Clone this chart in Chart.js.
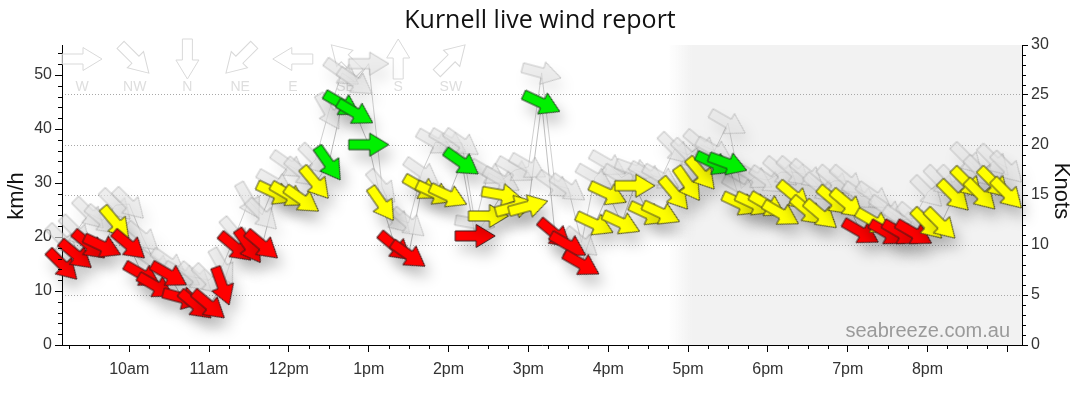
<!DOCTYPE html>
<html>
<head>
<meta charset="utf-8">
<title>Kurnell live wind report</title>
<script src="https://cdn.jsdelivr.net/npm/chart.js@4.4.1/dist/chart.umd.min.js"></script>
<style>
  html, body { margin: 0; padding: 0; background: #fff; }
  #wind { display: block; }
</style>
</head>
<body>
<canvas id="wind" width="1080" height="414"></canvas>
<script>
// 観測時刻（24時間表記）
const times = [
  '09:10', '09:20', '09:30', '09:40', '09:50',
  '10:00', '10:10', '10:20', '10:30', '10:40', '10:50',
  '11:00', '11:10', '11:20', '11:30', '11:40', '11:50',
  '12:00', '12:10', '12:20', '12:30', '12:40', '12:50',
  '13:00', '13:10', '13:20', '13:30', '13:40', '13:50',
  '14:00', '14:10', '14:20', '14:30', '14:40', '14:50',
  '15:00', '15:10', '15:20', '15:30', '15:40', '15:50',
  '16:00', '16:10', '16:20', '16:30', '16:40', '16:50',
  '17:00', '17:10', '17:20', '17:30', '17:40', '17:50',
  '18:00', '18:10', '18:20', '18:30', '18:40', '18:50',
  '19:00', '19:10', '19:20', '19:30', '19:40', '19:50',
  '20:00', '20:10', '20:20', '20:30', '20:40', '20:50',
  '21:00'
];

// 平均風速 (km/h)
const avgKmh = [
  14.8, 16.7, 18.5, 18.3, 22.6,
  18.5, 13.0, 10.9, 13.0, 8.7, 7.4,
  7.4, 10.9, 18.1, 18.3, 18.5, 28.1,
  27.8, 26.9, 30.0, 33.6, 44.6, 43.0,
  37.1, 26.1, 18.2, 16.7, 29.1, 28.1,
  27.6, 33.8, 20.2, 23.9, 27.8, 25.6,
  25.7, 44.8, 20.6, 18.5, 15.0, 22.4,
  28.0, 22.6, 29.5, 24.3, 24.4, 28.0,
  29.8, 31.7, 33.6, 33.6, 26.1, 26.1,
  25.9, 24.3, 27.6, 24.8, 24.1, 26.7,
  26.1, 20.9, 22.8, 20.7, 20.7, 20.7,
  22.4, 22.4, 27.6, 30.0, 27.8, 30.0,
  28.0
];

// 平均風向（吹いてくる方位、度）
const avgDir = [
  315, 310, 310, 295, 320,
  310, 300, 300, 300, 285, 310,
  310, 340, 310, 325, 310, 295,
  300, 305, 320, 325, 300, 300,
  270, 325, 310, 305, 300, 295,
  295, 305, 270, 270, 280, 255,
  255, 295, 310, 300, 300, 295,
  295, 295, 270, 295, 295, 320,
  325, 320, 295, 290, 295, 295,
  300, 300, 310, 310, 310, 310,
  310, 300, 300, 300, 300, 300,
  315, 315, 315, 315, 315, 315,
  315
];

// 最大瞬間風速 (km/h)
const gustKmh = [
  19.4, 21.0, 24.3, 23.1, 25.9,
  26.1, 20.0, 15.0, 15.2, 13.0, 12.5,
  12.0, 14.5, 20.5, 26.7, 24.1, 30.0,
  33.3, 31.9, 34.3, 43.2, 50.4, 48.7,
  52.1, 29.3, 23.5, 22.6, 32.0, 37.5,
  37.6, 37.4, 22.5, 31.9, 30.5, 32.4,
  33.0, 50.4, 29.6, 29.0, 19.0, 31.0,
  33.5, 31.0, 32.4, 31.5, 31.0, 36.3,
  35.2, 37.0, 36.0, 41.1, 29.0, 31.1,
  30.5, 32.0, 32.0, 31.5, 29.0, 30.4,
  30.4, 27.5, 27.5, 25.0, 23.1, 23.5,
  28.3, 30.2, 30.2, 34.4, 32.0, 34.1,
  32.8
];

// 瞬間風向
const gustDir = [
  315, 315, 315, 310, 315,
  315, 310, 305, 305, 300, 310,
  315, 330, 320, 330, 315, 300,
  305, 310, 315, 330, 305, 305,
  270, 320, 315, 310, 305, 300,
  300, 305, 280, 300, 300, 300,
  300, 285, 305, 305, 310, 300,
  300, 300, 290, 300, 300, 315,
  315, 310, 300, 300, 300, 300,
  305, 310, 310, 310, 310, 310,
  310, 305, 305, 305, 305, 310,
  315, 315, 315, 315, 315, 315,
  315
];

const hourLabels = ['10am', '11am', '12pm', '1pm', '2pm', '3pm', '4pm', '5pm', '6pm', '7pm', '8pm', ''];
const compassLabels = ['W', 'NW', 'N', 'NE', 'E', 'SE', 'S', 'SW'];
const compassDirs = [270, 315, 0, 45, 90, 135, 180, 225];

const KMH_PER_KNOT = 1.852;
const toHours = t => { const [h, m] = t.split(':').map(Number); return h + m / 60; };
const toRotation = dir => dir + 90;   // 右向き矢印を風下方向へ回す

// 右向き矢印のパス（中心が原点）
function arrowPath(g) {
  g.beginPath();
  g.moveTo(-20, -5);
  g.lineTo(1, -5);
  g.lineTo(1, -11.5);
  g.lineTo(20, 0);
  g.lineTo(1, 11.5);
  g.lineTo(1, 5);
  g.lineTo(-20, 5);
  g.closePath();
}

function makeArrow(fill, stroke) {
  const c = document.createElement('canvas');
  c.width = 44;
  c.height = 28;
  const g = c.getContext('2d');
  g.translate(22, 14);
  arrowPath(g);
  g.fillStyle = fill;
  g.fill();
  g.lineWidth = 1;
  g.strokeStyle = stroke;
  g.stroke();
  return c;
}

const arrows = {
  red: makeArrow('#ff0000', '#3a1a1a'),
  yellow: makeArrow('#ffff00', '#4a4a20'),
  green: makeArrow('#00f000', '#1f3f1f'),
  gust: makeArrow('rgba(228,228,228,0.65)', 'rgba(150,150,150,0.5)')
};

function arrowFor(kmh) {
  const kn = kmh / KMH_PER_KNOT;
  if (kn < 12) return arrows.red;
  if (kn < 18) return arrows.yellow;
  return arrows.green;
}

// 影（デバイス座標でずらす）
const shadowPlugin = {
  id: 'arrowShadow',
  beforeDatasetDraw(chart, args) {
    const s = chart.data.datasets[args.index].shadow;
    if (!s) return;
    const ctx = chart.ctx;
    ctx.save();
    ctx.shadowColor = s;
    ctx.shadowBlur = 14;
    ctx.shadowOffsetX = 5;
    ctx.shadowOffsetY = 10;
  },
  afterDatasetDraw(chart, args) {
    if (chart.data.datasets[args.index].shadow) chart.ctx.restore();
  }
};

// 背景の網掛け、方位の凡例、軸タイトル、透かし、補助目盛
const chromePlugin = {
  id: 'chrome',
  beforeDraw(chart) {
    const {ctx, chartArea: a, scales} = chart;
    const x0 = scales.x.getPixelForValue(16.75);
    const x1 = scales.x.getPixelForValue(17.05);
    const grad = ctx.createLinearGradient(x0, 0, x1, 0);
    grad.addColorStop(0, 'rgba(242,242,242,0)');
    grad.addColorStop(1, 'rgba(242,242,242,1)');
    ctx.save();
    ctx.fillStyle = grad;
    ctx.fillRect(x0, a.top, a.right - x0, a.bottom - a.top);
    ctx.restore();
  },
  beforeDatasetsDraw(chart) {
    const {ctx, chartArea: a} = chart;
    ctx.save();
    // 方位の凡例
    compassLabels.forEach((lab, i) => {
      const cx = 82 + i * 52.7;
      ctx.save();
      ctx.translate(cx, 59);
      ctx.rotate(toRotation(compassDirs[i]) * Math.PI / 180);
      arrowPath(ctx);
      ctx.fillStyle = 'rgba(255,255,255,0.4)';
      ctx.fill();
      ctx.lineWidth = 1;
      ctx.strokeStyle = '#d9d9d9';
      ctx.stroke();
      ctx.restore();
      ctx.font = '14px "Liberation Sans", Arial, sans-serif';
      ctx.fillStyle = '#dedede';
      ctx.textAlign = 'center';
      ctx.textBaseline = 'middle';
      ctx.fillText(lab, cx, 87);
    });
    // 透かし
    ctx.font = '20px "Liberation Sans", Arial, sans-serif';
    ctx.fillStyle = '#9a9a9a';
    ctx.textAlign = 'right';
    ctx.textBaseline = 'alphabetic';
    ctx.fillText('seabreeze.com.au', a.right - 12, a.bottom - 8);
    // 軸タイトル
    ctx.font = '22px "Liberation Sans", Arial, sans-serif';
    ctx.fillStyle = '#111';
    ctx.textAlign = 'center';
    ctx.textBaseline = 'alphabetic';
    ctx.save();
    ctx.translate(23, 196);
    ctx.rotate(-Math.PI / 2);
    ctx.fillText('km/h', 0, 0);
    ctx.restore();
    ctx.save();
    ctx.translate(1055, 191);
    ctx.rotate(Math.PI / 2);
    ctx.fillText('Knots', 0, 0);
    ctx.restore();
    ctx.restore();
  },
  afterDraw(chart) {
    const {ctx, chartArea: a, scales} = chart;
    ctx.save();
    ctx.strokeStyle = '#000';
    ctx.lineWidth = 1;
    ctx.beginPath();
    const xs = scales.x;
    for (let v = Math.ceil(xs.min * 4) / 4; v <= xs.max; v += 0.25) {
      if (Math.abs(v - Math.round(v)) < 1e-6) continue;
      const px = Math.round(xs.getPixelForValue(v)) + 0.5;
      ctx.moveTo(px, a.bottom);
      ctx.lineTo(px, a.bottom + 4);
    }
    const yl = scales.y;
    for (let v = 2; v < yl.max; v += 2) {
      if (v % 10 === 0) continue;
      const py = Math.round(yl.getPixelForValue(v)) + 0.5;
      ctx.moveTo(a.left - 4, py);
      ctx.lineTo(a.left, py);
    }
    const yr = scales.yKn;
    for (let v = 1; v < 30; v++) {
      if (v % 5 === 0) continue;
      const py = Math.round(yr.getPixelForValue(v)) + 0.5;
      ctx.moveTo(a.right, py);
      ctx.lineTo(a.right + 4, py);
    }
    ctx.stroke();
    ctx.restore();
  }
};

Chart.defaults.font.family = '"Liberation Sans", Arial, sans-serif';
Chart.defaults.color = '#333';

const avgPoints = times.map((t, i) => ({x: toHours(t), y: avgKmh[i]}));
const gustPoints = times.map((t, i) => ({x: toHours(t), y: gustKmh[i]}));

const ctx = document.getElementById('wind').getContext('2d');
new Chart(ctx, {
  type: 'scatter',
  data: {
    datasets: [
      {
        label: 'Average',
        data: avgPoints,
        yAxisID: 'y',
        clip: false,
        shadow: 'rgba(0,0,0,0.22)',
        pointStyle: c => arrowFor(avgKmh[c.dataIndex]),
        rotation: c => toRotation(avgDir[c.dataIndex]),
        pointRadius: 3
      },
      {
        label: 'Gust',
        data: gustPoints,
        yAxisID: 'y',
        clip: false,
        shadow: 'rgba(0,0,0,0.12)',
        pointStyle: arrows.gust,
        rotation: c => toRotation(gustDir[c.dataIndex]),
        pointRadius: 3
      },
      {
        label: 'Average line',
        data: avgPoints,
        yAxisID: 'y',
        showLine: true,
        borderColor: 'rgba(140,140,140,0.55)',
        borderWidth: 1,
        pointRadius: 0
      },
      {
        label: 'Gust line',
        data: gustPoints,
        yAxisID: 'y',
        showLine: true,
        borderColor: 'rgba(150,150,150,0.45)',
        borderWidth: 1,
        pointRadius: 0
      }
    ]
  },
  options: {
    responsive: false,
    animation: false,
    events: [],
    layout: {padding: 0},
    plugins: {
      legend: {display: false},
      tooltip: {enabled: false},
      title: {
        display: true,
        text: 'Kurnell live wind report',
        color: '#111',
        font: {family: '"Open Sans", "Noto Sans", sans-serif', size: 25, weight: 'normal'},
        padding: {top: 6, bottom: 9}
      }
    },
    scales: {
      x: {
        type: 'linear',
        position: 'bottom',
        min: toHours('09:09') + 0.5 / 60,
        max: toHours('21:11'),
        afterFit: s => { s.height = 69; },
        ticks: {
          stepSize: 1,
          includeBounds: false,
          autoSkip: false,
          maxRotation: 0,
          padding: 8,
          font: {size: 16},
          color: '#333',
          callback: v => hourLabels[Math.round(v) - 10] ?? ''
        },
        grid: {drawOnChartArea: false, tickLength: 7, tickColor: '#000'},
        border: {color: '#000', width: 1}
      },
      y: {
        position: 'left',
        min: 0,
        max: 30 * KMH_PER_KNOT,
        afterFit: s => { s.width = 62; },
        ticks: {stepSize: 10, includeBounds: false, padding: 3, font: {size: 16}, color: '#333'},
        grid: {drawOnChartArea: false, tickLength: 7, tickColor: '#000'},
        border: {color: '#000', width: 1}
      },
      yKn: {
        position: 'right',
        min: 0,
        max: 30,
        afterFit: s => { s.width = 58; },
        ticks: {stepSize: 5, padding: 3, font: {size: 16}, color: '#333'},
        grid: {
          drawOnChartArea: true,
          tickLength: 6,
          tickColor: '#000',
          color: c => (c.tick && (c.tick.value === 0 || c.tick.value === 30)) ? 'rgba(0,0,0,0)' : '#a8a8a8'
        },
        border: {color: '#000', width: 1, dash: [1, 2]}
      }
    }
  },
  plugins: [shadowPlugin, chromePlugin]
});
</script>
</body>
</html>
